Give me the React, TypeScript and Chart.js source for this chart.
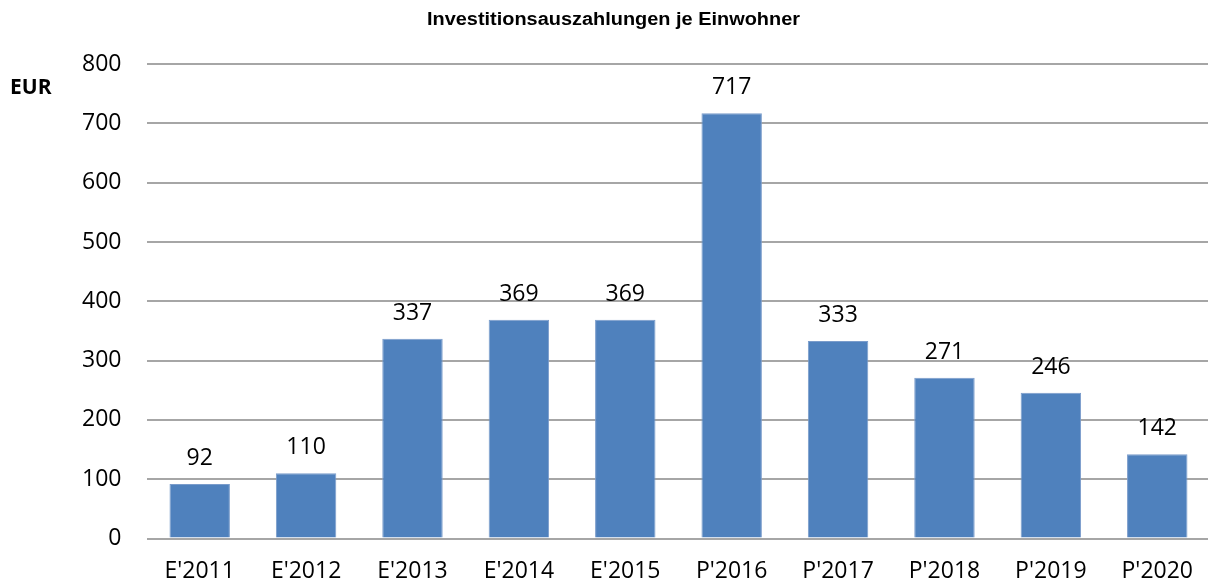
import React, { useEffect, useRef } from "react";
import { Chart, registerables } from "chart.js";

Chart.register(...registerables);

const categories = ["E'2011", "E'2012", "E'2013", "E'2014", "E'2015", "P'2016", "P'2017", "P'2018", "P'2019", "P'2020"];
const values = [92, 110, 337, 369, 369, 717, 333, 271, 246, 142];
const titleText = "Investitionsauszahlungen je Einwohner";
const unitLabel = "EUR";
const yMin = 0;
const yMax = 800;
const yStep = 100;

const FONT = "'Open Sans', sans-serif";

export default function App() {
  const ref = useRef<HTMLCanvasElement | null>(null);

  useEffect(() => {
    if (!ref.current) return;
    const textPlugin = {
      id: "texts",
      afterDatasetsDraw(chart: any) {
        const ctx = chart.ctx;
        ctx.save();
        // title (slightly widened to match the reference)
        ctx.fillStyle = "#000";
        ctx.font = "bold 18px 'Liberation Sans', Arial, sans-serif";
        ctx.textAlign = "center";
        ctx.textBaseline = "alphabetic";
        const w = ctx.measureText(titleText).width;
        const sx = 373 / w;
        ctx.save();
        ctx.translate(613.5, 25);
        ctx.scale(sx, 1);
        ctx.fillText(titleText, 0, 0);
        ctx.restore();
        // unit
        ctx.font = `bold 21px ${FONT}`;
        ctx.textAlign = "left";
        ctx.fillText(unitLabel, 10, 94);
        // value labels
        ctx.font = `23px ${FONT}`;
        ctx.textAlign = "center";
        const meta = chart.getDatasetMeta(0);
        meta.data.forEach((bar: any, i: number) => {
          ctx.fillText(String(values[i]), bar.x, bar.y - 19);
        });
        ctx.restore();
      },
    };

    const chart = new Chart(ref.current, {
      type: "bar",
      data: {
        labels: categories,
        datasets: [
          {
            data: values,
            backgroundColor: "#4F81BD",
            borderColor: "#7A9CCB",
            borderWidth: 1,
            categoryPercentage: 0.568,
            barPercentage: 1,
          },
        ],
      },
      options: {
        responsive: false,
        animation: false,
        layout: { padding: { top: 64, left: 0, right: 0, bottom: 0 } },
        plugins: {
          legend: { display: false },
          title: { display: false },
          tooltip: { enabled: false },
        },
        scales: {
          x: {
            grid: { display: false, drawTicks: false },
            border: { display: false },
            ticks: {
              color: "#000",
              font: { family: FONT, size: 23 },
              padding: 19,
              maxRotation: 0,
              autoSkip: false,
            },
            afterFit: (s: any) => {
              s.height = 44.4;
            },
          },
          y: {
            min: yMin,
            max: yMax,
            grid: { color: "#A6A6A6", lineWidth: 2, drawTicks: false },
            border: { display: false },
            ticks: {
              stepSize: yStep,
              color: "#000",
              font: { family: FONT, size: 23 },
              padding: 25,
            },
            afterFit: (s: any) => {
              s.width = 146.5;
            },
          },
        },
      },
      plugins: [textPlugin],
    });
    return () => chart.destroy();
  }, []);

  return (
    <div style={{ position: "fixed", left: 0, top: 0, width: 1208, height: 583, overflow: "hidden", background: "#fff" }}>
      <canvas ref={ref} width={1212} height={583} style={{ display: "block" }} />
    </div>
  );
}
